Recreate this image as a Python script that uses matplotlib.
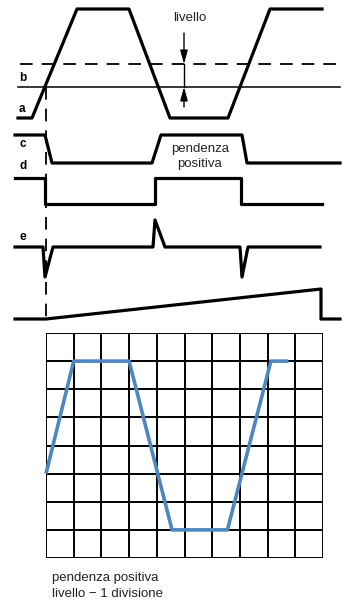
import matplotlib.pyplot as plt

# Trigger timing diagram (x in px, y in px from top)
wave_a_x = [18, 32, 77, 129, 170, 228, 270, 322]
wave_a_y = [118, 118, 9, 9, 118, 118, 9, 9]

level_dashed_y = 64
level_b_y = 87

wave_c_x = [15, 45, 52, 152, 161, 242, 247, 340]
wave_c_y = [135, 135, 163, 163, 135, 135, 163, 163]

wave_d_x = [15, 45, 45, 155, 155, 241, 241, 322]
wave_d_y = [178, 178, 204, 204, 178, 178, 204, 204]

wave_e_x = [15, 43, 45, 53, 153, 155, 165, 240, 242, 248, 320]
wave_e_y = [247, 247, 277, 247, 247, 220, 247, 247, 277, 247, 247]

ramp_x = [15, 46, 321, 321, 340]
ramp_y = [319, 319, 289, 319, 319]

# Scope trace in grid divisions (10 x 8)
scope_x = [0, 1, 3, 4.55, 6.55, 8.12, 8.75]
scope_y = [3, 7, 7, 1, 1, 7, 7]
n_cols, n_rows = 10, 8

fig = plt.figure(figsize=(3.45, 6.02), dpi=100)
ax = fig.add_axes([0, 0, 1, 1])
ax.set_xlim(0, 345)
ax.set_ylim(602, 0)
ax.axis('off')

lw = 2.3
ax.plot(wave_a_x, wave_a_y, color='black', lw=lw)
ax.plot([20, 340], [level_dashed_y] * 2, color='black', lw=1.3, dashes=(7, 5))
ax.plot([18, 340], [level_b_y] * 2, color='black', lw=1.1)
ax.plot(wave_c_x, wave_c_y, color='black', lw=lw)
ax.plot(wave_d_x, wave_d_y, color='black', lw=lw)
ax.plot(wave_e_x, wave_e_y, color='black', lw=lw)
ax.plot(ramp_x, ramp_y, color='black', lw=lw)

# vertical dashed trigger marker
ax.plot([46, 46], [level_b_y, 322], color='black', lw=1.3, dashes=(7, 5))

# level arrows
arrow = dict(arrowstyle='-|>,head_length=0.9,head_width=0.25', color='black',
             lw=1, mutation_scale=9, shrinkA=0, shrinkB=0)
ax.annotate('', xy=(184, level_dashed_y), xytext=(184, 33), arrowprops=arrow)
ax.annotate('', xy=(184, level_b_y), xytext=(184, 107), arrowprops=arrow)
ax.plot([184, 184], [level_dashed_y, level_b_y], color='black', lw=1)

txt = dict(fontsize=9.5, family='Liberation Sans', color='#222222')
ax.text(190, 18, 'livello', ha='center', va='center', **txt)
ax.text(200, 149, 'pendenza', ha='center', va='center', **txt)
ax.text(200, 164, 'positiva', ha='center', va='center', **txt)

for lab, y in [('b', 78), ('a', 109), ('c', 144), ('d', 166), ('e', 237)]:
    ax.text(19, y, lab, ha='left', va='center', fontsize=8.5, fontweight='bold',
            family='Liberation Sans')

# scope screen
gx0, gx1, gy0, gy1 = 46, 323, 333, 558
sax = fig.add_axes([gx0 / 345, 1 - gy1 / 602, (gx1 - gx0) / 345, (gy1 - gy0) / 602])
sax.set_xlim(0, n_cols)
sax.set_ylim(0, n_rows)
sax.set_xticks([])
sax.set_yticks([])
for i in range(n_cols + 1):
    sax.axvline(i, color='black', lw=1.4)
for j in range(n_rows + 1):
    sax.axhline(j, color='black', lw=1.4)
for s in sax.spines.values():
    s.set_visible(False)
sax.plot(scope_x, scope_y, color='#4f86c0', lw=2.6, solid_capstyle='butt', clip_on=False)

ax.text(52, 578, 'pendenza positiva', ha='left', va='center', **txt)
ax.text(52, 594, 'livello \u2212 1 divisione', ha='left', va='center', **txt)

fig.savefig('out.png', dpi=100)
